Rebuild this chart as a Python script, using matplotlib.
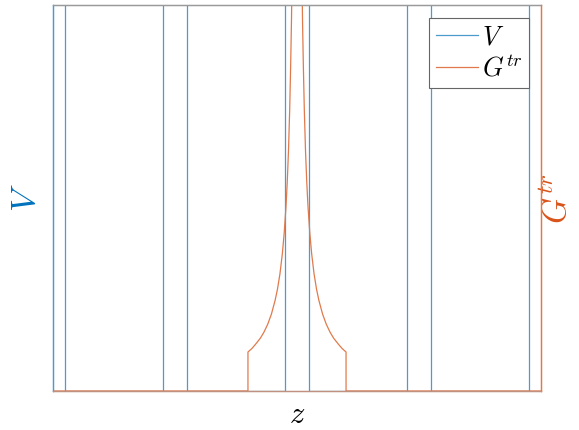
import numpy as np
import matplotlib
matplotlib.use("Agg")
import matplotlib.pyplot as plt

plt.rcParams["mathtext.fontset"] = "cm"
plt.rcParams["font.family"] = ["DejaVu Serif"]

# Periodic potential: barrier centres, half-width and height (height is off-scale)
barrier_centers = [0.0, 1.0, 2.0, 3.0, 4.0]
barrier_halfwidth = 0.1
barrier_height = 10.0
z_min, z_max = 0.0, 4.0

# G^tr around the central barrier: distance from centre and value (one side, mirrored)
g_center = 2.0
g_dist = [0.402, 0.37, 0.34, 0.30, 0.27, 0.24, 0.21, 0.18, 0.16, 0.14, 0.12,
          0.105, 0.09, 0.08, 0.07, 0.06, 0.052, 0.045, 0.04, 0.035, 0.03]
g_vals = [0.101, 0.110, 0.121, 0.137, 0.153, 0.173, 0.199, 0.234, 0.264, 0.303,
          0.356, 0.409, 0.479, 0.541, 0.620, 0.728, 0.843, 0.965, 1.09, 1.25, 1.46]

BLUE = "#0072BD"
ORANGE = "#D95319"
BLUE_LINE = "#4b9cca"
ORANGE_LINE = "#e07a4c"

# Build the step outline of V
edges = []
for c in barrier_centers:
    lo, hi = max(c - barrier_halfwidth, z_min), min(c + barrier_halfwidth, z_max)
    edges.append((lo, hi))
vz, vv = [], []
prev = z_min
for lo, hi in edges:
    if lo > prev:
        vz += [prev, lo]
        vv += [0.0, 0.0]
    vz += [lo, hi]
    vv += [barrier_height, barrier_height]
    prev = hi
vz = np.array(vz)
vv = np.array(vv)

# Build G^tr: zero outside, jumps up and spikes at the centre
gd = np.array(g_dist)
gvals = np.array(g_vals)
left_z = g_center - gd
right_z = g_center + gd[::-1]
gz = np.concatenate([[z_min, left_z[0]], left_z, right_z, [right_z[-1], z_max]])
gv = np.concatenate([[0.0, 0.0], gvals, gvals[::-1], [0.0, 0.0]])

fig = plt.figure(figsize=(5.79, 4.30), dpi=100)
ax = fig.add_axes([53 / 579, 39 / 430, 488 / 579, 386 / 430])
ax2 = ax.twinx()

ax.plot(vz, vv, color=BLUE_LINE, lw=0.9)
ax2.plot(gz, gv, color=ORANGE_LINE, lw=0.9)

ax.set_xlim(z_min, z_max)
ax.set_ylim(0, 1)
ax2.set_ylim(0, 1)
for a in (ax, ax2):
    a.set_xticks([])
    a.set_yticks([])
    a.spines["top"].set_color("#9a9a9a")
    a.spines["bottom"].set_color("#c09080")
    a.spines["left"].set_color(BLUE_LINE)
    a.spines["right"].set_color(ORANGE_LINE)
    for s in a.spines.values():
        s.set_linewidth(0.9)

ax.set_xlabel(r"$z$", fontsize=22, labelpad=6)
ax.set_ylabel(r"$V$", fontsize=25, color=BLUE, labelpad=8)
ax2.set_ylabel(r"$G^{tr}$", fontsize=24, color=ORANGE, labelpad=0)

h1 = plt.Line2D([], [], color=BLUE_LINE, lw=0.9)
h2 = plt.Line2D([], [], color=ORANGE_LINE, lw=0.9)
leg = ax2.legend([h1, h2], [r"$V$", r"$G^{tr}$"], loc="upper right",
                 bbox_to_anchor=(0.976, 0.967), fontsize=19, fancybox=False,
                 framealpha=1, edgecolor="#666666", handlelength=1.6,
                 handletextpad=0.15, borderpad=0.25, labelspacing=0.2,
                 borderaxespad=0.0)
leg.get_frame().set_linewidth(0.8)

fig.savefig("out.png", dpi=100)
